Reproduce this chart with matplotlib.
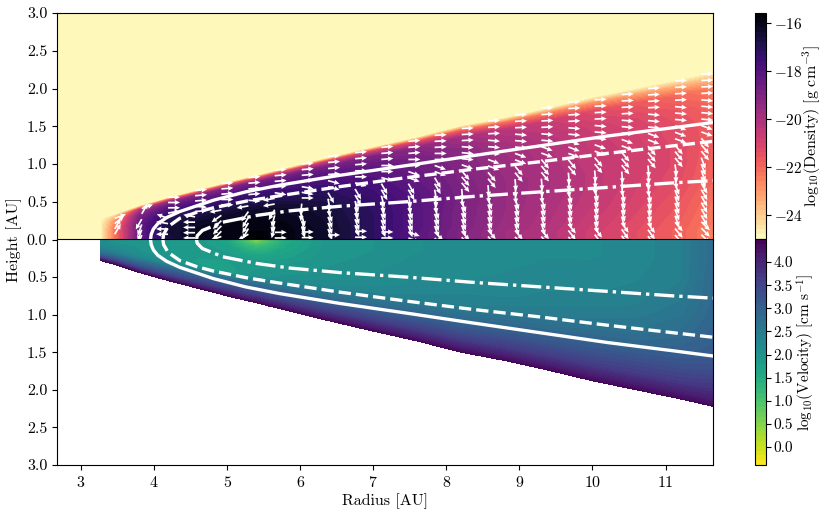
import numpy as np
import matplotlib
matplotlib.use("Agg")
import matplotlib.pyplot as plt

plt.rcParams['font.family'] = ['cmr10', 'DejaVu Serif']
plt.rcParams['mathtext.fontset'] = 'cm'
plt.rcParams['axes.formatter.use_mathtext'] = True
plt.rcParams['axes.unicode_minus'] = False

# ---- read-off data -------------------------------------------------------
radius = [3.26, 3.45, 3.8, 4.2, 4.6, 5.0, 5.25, 5.4, 5.55, 5.8, 6.3, 7.0, 7.6, 8.2, 8.8, 9.4, 10.0, 10.6, 11.2, 11.65]
edge_height = [0.28, 0.33, 0.44, 0.55, 0.65, 0.75, 0.81, 0.84, 0.88, 0.94, 1.06, 1.22, 1.35, 1.50, 1.61, 1.74, 1.88, 2.00, 2.12, 2.22]
edge_fraction = [0, .06, .12, .25, .36, .47, .58, .7, .8, .9, .96, 1]

log_density = [
    [-25, -25, -25, -25, -25, -25, -25, -25, -25, -25, -25, -25],
    [-22.5, -22.5, -22.5, -22.5, -22.5, -22.6, -22.8, -23, -23.5, -24, -24.6, -25],
    [-18.5, -18.5, -18.4, -18.4, -18.4, -18.5, -18.7, -19, -19.5, -20.5, -23, -25],
    [-16.7, -16.7, -16.6, -16.6, -16.7, -16.9, -17.2, -17.8, -18.4, -19.5, -22, -25],
    [-16.1, -16.1, -16.1, -16.2, -16.4, -16.7, -17.1, -17.7, -18.3, -19.2, -21.7, -25],
    [-15.9, -15.9, -15.9, -16.0, -16.2, -16.5, -17.0, -17.6, -18.2, -19.0, -21.5, -25],
    [-15.8, -15.8, -15.8, -15.9, -16.1, -16.4, -16.9, -17.5, -18.1, -18.9, -21.4, -25],
    [-15.7, -15.7, -15.8, -15.9, -16.1, -16.4, -16.9, -17.5, -18.1, -18.9, -21.3, -25],
    [-15.8, -15.8, -15.8, -15.9, -16.1, -16.4, -16.9, -17.5, -18.1, -18.9, -21.3, -25],
    [-15.9, -15.9, -15.9, -16.0, -16.2, -16.5, -17.0, -17.6, -18.1, -18.9, -21.2, -25],
    [-16.3, -16.3, -16.3, -16.4, -16.5, -16.8, -17.1, -17.7, -18.1, -18.9, -21.0, -25],
    [-17.2, -17.2, -17.2, -17.2, -17.3, -17.5, -17.7, -18.1, -18.4, -19.0, -21.1, -25],
    [-18.2, -18.2, -18.1, -18.1, -18.1, -18.2, -18.4, -18.6, -18.9, -19.4, -21.4, -25],
    [-19.1, -19.1, -19.0, -19.0, -18.9, -19.0, -19.1, -19.2, -19.4, -19.9, -21.9, -25],
    [-19.8, -19.8, -19.7, -19.6, -19.6, -19.6, -19.7, -19.8, -20.0, -20.4, -22.2, -25],
    [-20.3, -20.3, -20.2, -20.1, -20.0, -20.0, -20.1, -20.2, -20.4, -20.8, -22.5, -25],
    [-20.9, -20.9, -20.8, -20.6, -20.5, -20.5, -20.6, -20.7, -20.9, -21.3, -22.9, -25],
    [-21.4, -21.4, -21.3, -21.1, -21.0, -20.9, -20.9, -21.0, -21.2, -21.7, -23.2, -25],
    [-21.9, -21.9, -21.8, -21.6, -21.4, -21.3, -21.3, -21.4, -21.6, -22.1, -23.5, -25],
    [-22.5, -22.5, -22.4, -22.2, -22.0, -21.9, -21.8, -21.8, -22.0, -22.5, -23.8, -25],
]

log_velocity = [
    [2.2, 2.2, 2.2, 2.2, 2.3, 2.4, 2.6, 2.9, 3.3, 3.8, 4.2, 4.4],
    [2.0, 2.0, 2.0, 2.1, 2.2, 2.3, 2.5, 2.9, 3.3, 3.8, 4.2, 4.4],
    [2.0, 2.0, 2.0, 2.0, 2.0, 2.1, 2.3, 2.8, 3.2, 3.7, 4.1, 4.4],
    [1.9, 1.9, 1.9, 1.9, 1.9, 2.0, 2.2, 2.8, 3.2, 3.7, 4.1, 4.4],
    [1.85, 1.85, 1.85, 1.85, 1.8, 1.75, 1.9, 2.8, 3.2, 3.7, 4.1, 4.4],
    [1.6, 1.65, 1.7, 1.8, 1.8, 1.75, 1.7, 2.7, 3.2, 3.7, 4.1, 4.4],
    [0.9, 1.1, 1.3, 1.65, 1.85, 1.85, 1.85, 2.7, 3.2, 3.7, 4.1, 4.4],
    [0.2, 0.8, 1.2, 1.6, 1.85, 1.9, 2.0, 2.7, 3.2, 3.7, 4.1, 4.4],
    [0.9, 1.1, 1.3, 1.65, 1.85, 1.9, 2.0, 2.7, 3.2, 3.7, 4.1, 4.4],
    [1.5, 1.55, 1.6, 1.75, 1.9, 1.95, 2.1, 2.7, 3.2, 3.7, 4.1, 4.4],
    [1.9, 1.9, 1.9, 1.95, 2.0, 2.05, 2.2, 2.7, 3.2, 3.7, 4.1, 4.4],
    [2.0, 2.0, 2.0, 2.05, 2.1, 2.15, 2.3, 2.75, 3.2, 3.7, 4.1, 4.4],
    [2.1, 2.1, 2.1, 2.15, 2.2, 2.25, 2.35, 2.8, 3.2, 3.7, 4.1, 4.4],
    [2.15, 2.15, 2.15, 2.15, 2.2, 2.3, 2.4, 2.8, 3.2, 3.7, 4.1, 4.4],
    [2.15, 2.15, 2.15, 2.2, 2.25, 2.3, 2.45, 2.85, 3.25, 3.7, 4.1, 4.4],
    [2.2, 2.2, 2.2, 2.25, 2.3, 2.35, 2.5, 2.85, 3.25, 3.7, 4.1, 4.4],
    [2.2, 2.2, 2.2, 2.25, 2.3, 2.4, 2.55, 2.9, 3.25, 3.7, 4.1, 4.4],
    [2.25, 2.25, 2.25, 2.3, 2.35, 2.45, 2.6, 2.9, 3.3, 3.7, 4.1, 4.4],
    [2.4, 2.4, 2.4, 2.4, 2.5, 2.6, 2.75, 3.0, 3.3, 3.7, 4.1, 4.4],
    [2.8, 2.8, 2.8, 2.85, 2.85, 2.9, 3.0, 3.1, 3.4, 3.8, 4.1, 4.4],
]

solid_r = [3.95, 3.96, 3.99, 4.05, 4.17, 4.35, 4.81, 5.25, 5.72, 6.54, 7.46, 8.36, 9.28, 10.2, 11.1, 11.65]
solid_z = [0.0, 0.07, 0.14, 0.21, 0.29, 0.37, 0.52, 0.63, 0.72, 0.85, 0.98, 1.11, 1.24, 1.37, 1.48, 1.55]
dashed_r = [4.12, 4.13, 4.19, 4.35, 4.58, 4.81, 5.27, 5.72, 6.54, 7.46, 8.36, 9.28, 10.2, 11.1, 11.65]
dashed_z = [0.0, 0.07, 0.17, 0.28, 0.36, 0.42, 0.51, 0.58, 0.70, 0.82, 0.93, 1.03, 1.14, 1.24, 1.30]
dashdot_r = [4.58, 4.59, 4.66, 4.94, 5.41, 5.86, 6.54, 7.46, 8.36, 9.28, 10.2, 11.1, 11.65]
dashdot_z = [0.0, 0.05, 0.12, 0.23, 0.32, 0.38, 0.44, 0.50, 0.57, 0.63, 0.69, 0.75, 0.78]

arrow_r = [3.5, 3.87, 4.23, 4.6, 4.96, 5.33, 5.69, 6.06, 6.42, 6.79, 7.15, 7.52,
           7.88, 8.25, 8.61, 8.98, 9.34, 9.71, 10.07, 10.44, 10.8, 11.17, 11.53]
arrow_top = [.28, .41, .56, .65, .74, .82, .92, 1.0, 1.1, 1.15, 1.22, 1.3,
             1.38, 1.47, 1.57, 1.65, 1.74, 1.82, 1.85, 1.92, 2.0, 2.1, 2.19]
arrow_step = [.07, .07, .07, .07, .07, .075, .075, .075, .08, .08, .08, .08,
              .08, .08, .085, .085, .085, .085, .085, .085, .085, .085, .085]
fraction_bins = [.12, .36, .5, .62, .72, .85]
arrow_angle = [
    [60, 60, 60, 60, 60, 40, 20],
    [250, 250, 250, 245, 240, 60, 20],
    [180, 180, 170, 160, 10, 0, 0],
    [180, 180, 170, 5, -5, 5, 5],
    [200, 225, 215, 190, 0, 5, 5],
    [210, 240, 235, 190, -5, 5, 5],
    [0, 255, 240, 190, -10, 5, 5],
    [0, 285, 265, 0, -10, 5, 5],
    [0, -70, -80, -60, -15, 5, 5],
    [0, -70, -75, -60, -15, 0, 5],
    [0, -70, -75, -60, -15, 0, 5],
    [-20, -70, -78, -60, -20, 0, 5],
    [-45, -70, -80, -60, -20, 0, 3],
    [-50, -70, -85, -50, -20, -5, 3],
    [-50, -72, -85, -50, -20, -5, 3],
    [-50, -72, -85, -50, -20, -5, 3],
    [-50, -72, -85, -50, -20, -5, 3],
    [-52, -74, -85, -50, -20, -5, 3],
    [-52, -74, -85, -50, -20, -5, 3],
    [-55, -75, -85, -50, -20, -5, 3],
    [-55, -75, -85, -50, -20, -5, 3],
    [-50, -70, -82, -50, -20, -5, 3],
    [-45, -60, -70, -50, -20, -5, 3],
]

radius_ticks = [3, 4, 5, 6, 7, 8, 9, 10, 11]
height_ticks = [0, .5, 1, 1.5, 2, 2.5, 3]
density_ticks = [-16, -18, -20, -22, -24]
velocity_ticks = [0, .5, 1, 1.5, 2, 2.5, 3, 3.5, 4]

# ---- layout ----------------------------------------------------------------
W, H = 830, 515
def box(x0, y0, x1, y1):
    return [x0 / W, 1 - y1 / H, (x1 - x0) / W, (y1 - y0) / H]

fig = plt.figure(figsize=(W / 100, H / 100), dpi=100)
ax_top = fig.add_axes(box(57, 13, 713, 239.5))
ax_bot = fig.add_axes(box(57, 239.5, 713, 465))
cax_top = fig.add_axes(box(755, 13, 766, 239))
cax_bot = fig.add_axes(box(755, 239, 766, 465))

X = np.repeat(np.array(radius)[:, None], len(edge_fraction), axis=1)
Y = np.array(edge_height)[:, None] * np.array(edge_fraction)[None, :]

ax_top.set_facecolor('#fef8bb')
cf_d = ax_top.contourf(X, Y, np.array(log_density), levels=np.linspace(-25.01, -15.6, 48),
                       cmap='magma_r', antialiased=False)
cf_v = ax_bot.contourf(X, Y, np.array(log_velocity), levels=np.linspace(-0.39, 4.5, 48),
                       cmap='viridis_r', antialiased=False)

for ax in (ax_top, ax_bot):
    ax.plot(solid_r, solid_z, color='white', lw=2.4, ls='-')
    ax.plot(dashed_r, dashed_z, color='white', lw=2.4, ls=(0, (3.7, 1.5)), dash_capstyle='butt')
    ax.plot(dashdot_r, dashdot_z, color='white', lw=2.4, ls=(0, (6, 1.5, 1, 1.5)), dash_capstyle='butt')
    ax.set_xlim(2.67, 11.65)
    ax.set_yticks(height_ticks)
    ax.set_xticks(radius_ticks)
    ax.tick_params(labelsize=11.5, length=3.5, width=0.8)

# arrows: one column per radius, all of equal screen length
qx, qz, qu, qv = [], [], [], []
for r, top, step, angles in zip(arrow_r, arrow_top, arrow_step, arrow_angle):
    for z in np.arange(top, 0.0, -step):
        a = np.deg2rad(angles[np.digitize(z / top, fraction_bins)])
        qx.append(r - 0.04)
        qz.append(z)
        qu.append(np.cos(a))
        qv.append(np.sin(a))
ax_top.quiver(qx, qz, qu, qv, color='white', angles='uv', units='dots', width=1.7,
              scale_units='dots', scale=1 / 12, headwidth=3, headlength=3.2, headaxislength=3,
              zorder=3)

ax_top.set_ylim(0, 3)
ax_bot.set_ylim(3, 0)
ax_top.tick_params(labelbottom=False, bottom=False)
ax_bot.set_yticks(height_ticks[1:])
ax_bot.set_yticklabels(['0.5', '1.0', '1.5', '2.0', '2.5', '3.0'])
ax_top.set_yticklabels(['0.0', '0.5', '1.0', '1.5', '2.0', '2.5', '3.0'])
ax_bot.set_xlabel('Radius [AU]', fontsize=11.5, labelpad=2.5)
fig.text(14 / W, 1 - 240 / H, 'Height [AU]', rotation=90, fontsize=11.5, ha='center', va='center')

cb1 = fig.colorbar(cf_d, cax=cax_top)
cb1.set_ticks(density_ticks)
cb1.set_ticklabels([r'$-%d$' % abs(t) for t in density_ticks])
cb1.set_label(r'$\mathrm{log}_{10}(\mathrm{Density})\ [\mathrm{g\ cm}^{-3}]$', fontsize=11.5)
cb1.ax.yaxis.set_label_coords((801 - 755) / 11, 0.5)
cb2 = fig.colorbar(cf_v, cax=cax_bot)
cb2.set_ticks(velocity_ticks)
cb2.set_ticklabels(['%.1f' % t for t in velocity_ticks])
cb2.set_label(r'$\mathrm{log}_{10}(\mathrm{Velocity})\ [\mathrm{cm\ s}^{-1}]$', fontsize=11)
cb2.ax.yaxis.set_label_coords((795 - 755) / 11, 0.5)
for cb in (cb1, cb2):
    cb.ax.tick_params(labelsize=11, length=3.5, width=0.8, pad=2)
    cb.outline.set_linewidth(0.8)

fig.savefig('out.png', dpi=100)
